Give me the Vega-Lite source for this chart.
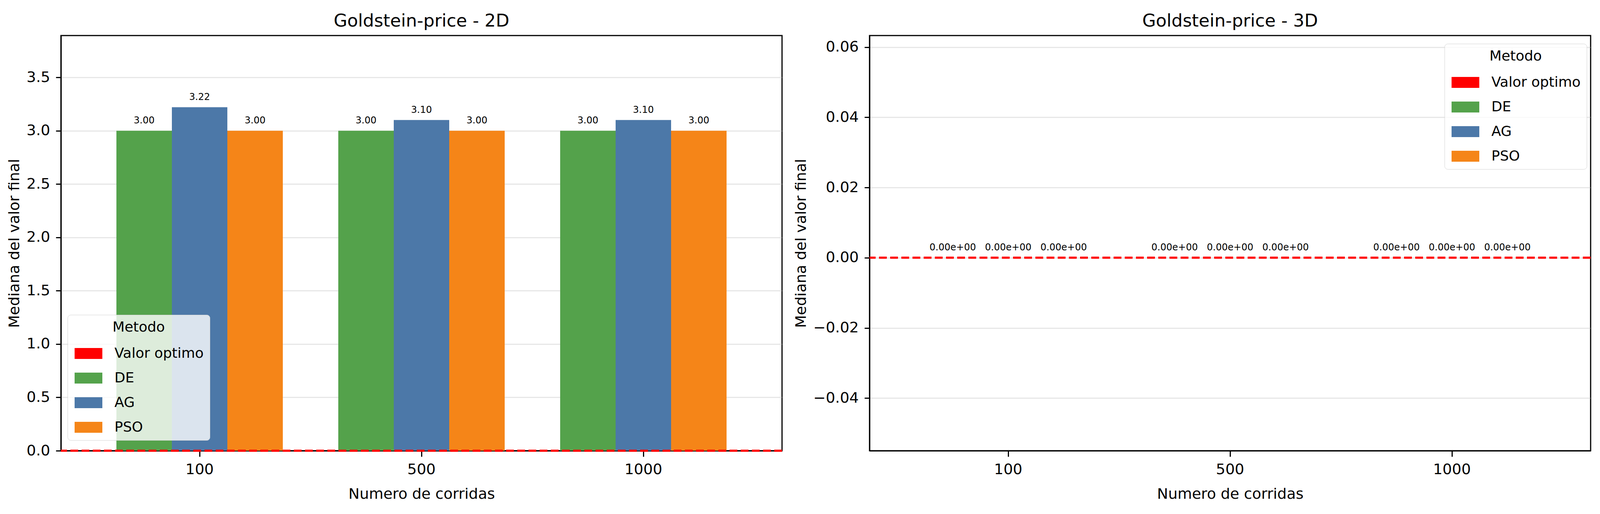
{
  "$schema": "https://vega.github.io/schema/vega-lite/v6.json",
  "padding": {"left": 17, "top": 30, "right": 10, "bottom": 10},
  "spacing": 24,
  "datasets": {
    "goldstein": [
      {"dim": "2D", "corridas": "100", "metodo": "DE", "valor": 3.0},
      {"dim": "2D", "corridas": "100", "metodo": "AG", "valor": 3.22},
      {"dim": "2D", "corridas": "100", "metodo": "PSO", "valor": 3.0},
      {"dim": "2D", "corridas": "500", "metodo": "DE", "valor": 3.0},
      {"dim": "2D", "corridas": "500", "metodo": "AG", "valor": 3.1},
      {"dim": "2D", "corridas": "500", "metodo": "PSO", "valor": 3.0},
      {"dim": "2D", "corridas": "1000", "metodo": "DE", "valor": 3.0},
      {"dim": "2D", "corridas": "1000", "metodo": "AG", "valor": 3.1},
      {"dim": "2D", "corridas": "1000", "metodo": "PSO", "valor": 3.0},
      {"dim": "3D", "corridas": "100", "metodo": "DE", "valor": 0},
      {"dim": "3D", "corridas": "100", "metodo": "AG", "valor": 0},
      {"dim": "3D", "corridas": "100", "metodo": "PSO", "valor": 0},
      {"dim": "3D", "corridas": "500", "metodo": "DE", "valor": 0},
      {"dim": "3D", "corridas": "500", "metodo": "AG", "valor": 0},
      {"dim": "3D", "corridas": "500", "metodo": "PSO", "valor": 0},
      {"dim": "3D", "corridas": "1000", "metodo": "DE", "valor": 0},
      {"dim": "3D", "corridas": "1000", "metodo": "AG", "valor": 0},
      {"dim": "3D", "corridas": "1000", "metodo": "PSO", "valor": 0}
    ],
    "optimo": [{"optimo": 0}]
  },
  "hconcat": [
    {
      "title": "Goldstein-price - 2D",
      "width": 1846,
      "height": 1063,
      "data": {"name": "goldstein"},
      "transform": [
        {"filter": "datum.dim == '2D'"},
        {"calculate": "datum.corridas + '-' + datum.metodo", "as": "grupo"},
        {"calculate": "format(datum.valor, '.2f')", "as": "label"}
      ],
      "layer": [
        {
          "mark": {"type": "bar"},
          "encoding": {
            "x": {
              "field": "grupo", "type": "nominal",
              "scale": {"domain": ["100-DE", "100-AG", "100-PSO", "hueco-1", "500-DE", "500-AG", "500-PSO", "hueco-2", "1000-DE", "1000-AG", "1000-PSO"], "paddingInner": 0, "paddingOuter": 1},
              "axis": {"title": "Numero de corridas", "values": ["100-AG", "500-AG", "1000-AG"], "labelExpr": "split(datum.value, '-')[0]"}
            },
            "y": {"field": "valor", "type": "quantitative", "scale": {"domain": [0, 3.892], "nice": false}, "axis": {"title": "Mediana del valor final", "values": [0, 0.5, 1, 1.5, 2, 2.5, 3, 3.5], "format": ".1f"}},
            "color": {
              "field": "metodo",
              "type": "nominal",
              "title": "Metodo",
              "scale": {
                "domain": ["Valor optimo", "DE", "AG", "PSO"],
                "range": ["#ff0000", "#54a24b", "#4c78a8", "#f58518"]
              },
              "legend": {
                "orient": "none",
                "legendX": 17,
                "legendY": 715,
                "padding": 15,
                "fillColor": "rgba(255,255,255,0.8)",
                "strokeColor": "#d4d4d4",
                "cornerRadius": 8,
                "titleAnchor": "middle",
                "titlePadding": 30,
                "rowPadding": 27,
                "symbolType": "M-1,-0.933H3.733V0.933H-1Z",
                "symbolSize": 900,
                "labelOffset": 69,
                "labelLimit": 400
              }
            }
          }
        },
        {
          "mark": {"type": "text", "baseline": "alphabetic", "align": "center", "dy": -18.5, "fontSize": 24, "font": "DejaVu Sans", "color": "black"},
          "encoding": {
            "x": {"field": "grupo", "type": "nominal"},
            "y": {"field": "valor", "type": "quantitative"},
            "text": {"field": "label"}
          }
        },
        {
          "data": {"name": "optimo"},
          "mark": {"type": "rule", "strokeDash": [20, 8.6], "strokeWidth": 5.5, "color": "#ff0000"},
          "encoding": {
            "y": {"field": "optimo", "type": "quantitative"}
          }
        }
      ]
    },
    {
      "title": "Goldstein-price - 3D",
      "width": 1846,
      "height": 1063,
      "data": {"name": "goldstein"},
      "transform": [
        {"filter": "datum.dim == '3D'"},
        {"calculate": "datum.corridas + '-' + datum.metodo", "as": "grupo"},
        {"calculate": "replace(format(datum.valor, '.2e'), 'e+0', 'e+00')", "as": "label"}
      ],
      "layer": [
        {
          "mark": {"type": "bar"},
          "encoding": {
            "x": {
              "field": "grupo", "type": "nominal",
              "scale": {"domain": ["100-DE", "100-AG", "100-PSO", "hueco-1", "500-DE", "500-AG", "500-PSO", "hueco-2", "1000-DE", "1000-AG", "1000-PSO"], "paddingInner": 0, "paddingOuter": 1},
              "axis": {"title": "Numero de corridas", "values": ["100-AG", "500-AG", "1000-AG"], "labelExpr": "split(datum.value, '-')[0]"}
            },
            "y": {"field": "valor", "type": "quantitative", "scale": {"domain": [-0.055, 0.0633], "nice": false, "zero": false}, "axis": {"title": "Mediana del valor final", "values": [-0.04, -0.02, 0, 0.02, 0.04, 0.06], "format": ".2f"}},
            "color": {
              "field": "metodo",
              "type": "nominal",
              "title": "Metodo",
              "scale": {
                "domain": ["Valor optimo", "DE", "AG", "PSO"],
                "range": ["#ff0000", "#54a24b", "#4c78a8", "#f58518"]
              },
              "legend": {
                "orient": "none",
                "legendX": 1472,
                "legendY": 21,
                "padding": 15,
                "fillColor": "rgba(255,255,255,0.8)",
                "strokeColor": "#d4d4d4",
                "cornerRadius": 8,
                "titleAnchor": "middle",
                "titlePadding": 30,
                "rowPadding": 27,
                "symbolType": "M-1,-0.933H3.733V0.933H-1Z",
                "symbolSize": 900,
                "labelOffset": 69,
                "labelLimit": 400
              }
            }
          }
        },
        {
          "mark": {"type": "text", "baseline": "alphabetic", "align": "center", "dy": -18.5, "fontSize": 24, "font": "DejaVu Sans", "color": "black"},
          "encoding": {
            "x": {"field": "grupo", "type": "nominal"},
            "y": {"field": "valor", "type": "quantitative"},
            "text": {"field": "label"}
          }
        },
        {
          "data": {"name": "optimo"},
          "mark": {"type": "rule", "strokeDash": [20, 8.6], "strokeWidth": 5.5, "color": "#ff0000"},
          "encoding": {
            "y": {"field": "optimo", "type": "quantitative"}
          }
        }
      ]
    }
  ],
  "resolve": {"scale": {"color": "independent"}},
  "config": {
    "font": "DejaVu Sans",
    "background": "white",
    "view": {"stroke": "black", "strokeWidth": 3},
    "title": {"font": "DejaVu Sans", "fontSize": 45, "fontWeight": "normal", "color": "black", "offset": 14},
    "axis": {
      "labelFont": "DejaVu Sans", "labelFontSize": 38, "labelColor": "black",
      "titleFont": "DejaVu Sans", "titleFontSize": 38, "titleFontWeight": "normal", "titleColor": "black",
      "tickColor": "black", "tickWidth": 3,
      "domainColor": "black", "domainWidth": 3,
      "gridColor": "#b0b0b0", "gridOpacity": 0.3, "gridWidth": 3
    },
    "axisX": {"grid": false, "labelAngle": 0, "tickSize": 15, "labelPadding": 14, "titlePadding": 25},
    "axisY": {"grid": true, "tickSize": 13, "labelPadding": 15, "titlePadding": 11},
    "legend": {
      "titleFont": "DejaVu Sans", "titleFontSize": 36, "titleFontWeight": "normal", "titleColor": "black",
      "labelFont": "DejaVu Sans", "labelFontSize": 36, "labelColor": "black"
    }
  }
}
